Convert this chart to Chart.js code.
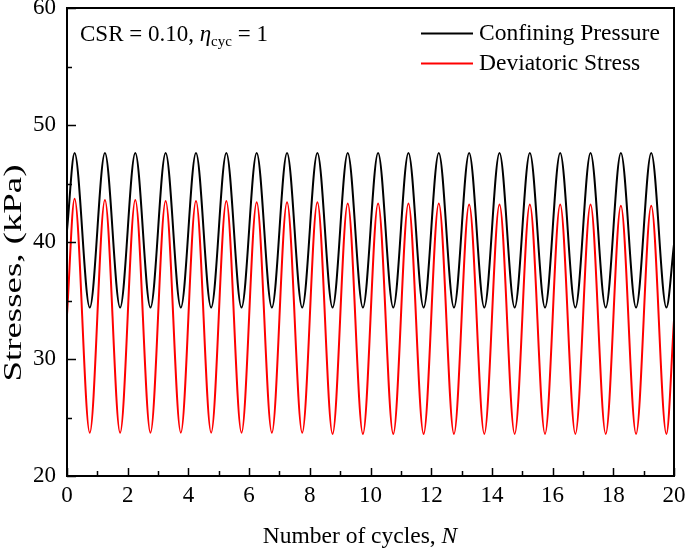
<!DOCTYPE html>
<html><head><meta charset="utf-8">
<script src="https://cdn.jsdelivr.net/npm/chart.js@4.4.1/dist/chart.umd.min.js"></script>
<style>html,body{margin:0;padding:0;background:#fff}#wrap{width:685px;height:551px}</style>
</head><body><div id="wrap"><canvas id="c" width="685" height="551"></canvas></div>
<script>
// ---- data ----
const xTickLabels = [0, 2, 4, 6, 8, 10, 12, 14, 16, 18, 20];
const xMinorTicks = [1, 3, 5, 7, 9, 11, 13, 15, 17, 19];
const yTickLabels = [20, 30, 40, 50, 60];
const yMinorTicks = [25, 35, 45, 55];

// cycle positions of the crests and troughs
const peakN   = [0.25, 1.25, 2.25, 3.25, 4.25, 5.25, 6.25, 7.25, 8.25, 9.25, 10.25, 11.25, 12.25, 13.25, 14.25, 15.25, 16.25, 17.25, 18.25, 19.25];
const troughN = [0.75, 1.75, 2.75, 3.75, 4.75, 5.75, 6.75, 7.75, 8.75, 9.75, 10.75, 11.75, 12.75, 13.75, 14.75, 15.75, 16.75, 17.75, 18.75, 19.75];
const startEndN = [0, 20];

// Confining Pressure (kPa)
const confPeak   = [47.6, 47.6, 47.6, 47.6, 47.6, 47.6, 47.6, 47.6, 47.6, 47.6, 47.6, 47.6, 47.6, 47.6, 47.6, 47.6, 47.6, 47.6, 47.6, 47.6];
const confTrough = [34.4, 34.4, 34.4, 34.4, 34.4, 34.4, 34.4, 34.4, 34.4, 34.4, 34.4, 34.4, 34.4, 34.4, 34.4, 34.4, 34.4, 34.4, 34.4, 34.4];
const confStartEnd = [41.0, 39.8];

// Deviatoric Stress (kPa)
const devPeak   = [43.7, 43.6, 43.6, 43.5, 43.5, 43.5, 43.4, 43.4, 43.4, 43.3, 43.3, 43.3, 43.3, 43.2, 43.2, 43.2, 43.2, 43.2, 43.1, 43.1];
const devTrough = [23.7, 23.7, 23.7, 23.7, 23.7, 23.7, 23.7, 23.7, 23.6, 23.6, 23.6, 23.6, 23.6, 23.6, 23.6, 23.6, 23.6, 23.6, 23.6, 23.6];
const devStartEnd = [33.8, 33.3];

function buildSeries(peaks, troughs, se) {
  const pts = [{x: startEndN[0], y: se[0]}];
  for (let i = 0; i < peakN.length; i++) {
    pts.push({x: peakN[i], y: peaks[i]});
    pts.push({x: troughN[i], y: troughs[i]});
  }
  pts.push({x: startEndN[1], y: se[1]});
  return pts;
}

const SERIF = '"Liberation Serif", "Times New Roman", serif';

const decorPlugin = {
  id: 'decor',
  afterDraw(chart) {
    const ctx = chart.ctx;
    const a = chart.chartArea;
    const xs = chart.scales.x, ys = chart.scales.y;
    ctx.save();
    ctx.strokeStyle = '#000';
    ctx.fillStyle = '#000';
    // frame
    ctx.lineWidth = 2;
    ctx.strokeRect(a.left, a.top, a.right - a.left, a.bottom - a.top);
    // inward ticks
    ctx.lineWidth = 1.5;
    ctx.beginPath();
    xTickLabels.forEach(v => { const p = Math.round(xs.getPixelForValue(v)) + 0.5; ctx.moveTo(p, a.bottom); ctx.lineTo(p, a.bottom - 8); });
    xMinorTicks.forEach(v => { const p = Math.round(xs.getPixelForValue(v)) + 0.5; ctx.moveTo(p, a.bottom); ctx.lineTo(p, a.bottom - 5); });
    yTickLabels.forEach(v => { const p = Math.round(ys.getPixelForValue(v)) + 0.5; ctx.moveTo(a.left, p); ctx.lineTo(a.left + 9, p); });
    yMinorTicks.forEach(v => { const p = Math.round(ys.getPixelForValue(v)) + 0.5; ctx.moveTo(a.left, p); ctx.lineTo(a.left + 5, p); });
    ctx.stroke();

    // annotation: CSR = 0.10, eta_cyc = 1
    ctx.textBaseline = 'alphabetic';
    ctx.textAlign = 'left';
    let x = 80; const by = 41;
    ctx.font = '23px ' + SERIF;
    const t1 = 'CSR = 0.10, ';
    ctx.fillText(t1, x, by); x += ctx.measureText(t1).width;
    ctx.font = 'italic 23px ' + SERIF;
    ctx.fillText('\u03B7', x, by); x += ctx.measureText('\u03B7').width;
    ctx.font = '15px ' + SERIF;
    ctx.fillText('cyc', x, by + 5); x += ctx.measureText('cyc').width;
    ctx.font = '23px ' + SERIF;
    ctx.fillText(' = 1', x, by);

    // legend
    const leg = [['Confining Pressure', '#000000', 33], ['Deviatoric Stress', '#ff0000', 63]];
    leg.forEach(([label, col, y]) => {
      ctx.strokeStyle = col; ctx.lineWidth = 2;
      ctx.beginPath(); ctx.moveTo(421, y + 0.5); ctx.lineTo(473, y + 0.5); ctx.stroke();
      ctx.fillStyle = '#000';
      ctx.font = '23.5px ' + SERIF;
      ctx.textBaseline = 'middle';
      ctx.fillText(label, 479, y + 1);
    });

    // x axis title
    ctx.textBaseline = 'middle';
    const xt1 = 'Number of cycles, ';
    ctx.font = 'italic 23.5px ' + SERIF;
    const wN = ctx.measureText('N').width;
    ctx.font = '23.5px ' + SERIF;
    const w1 = ctx.measureText(xt1).width;
    let sx = 360 - (w1 + wN) / 2;
    ctx.fillText(xt1, sx, 537);
    ctx.font = 'italic 23.5px ' + SERIF;
    ctx.fillText('N', sx + w1, 537);

    // y axis title
    ctx.save();
    ctx.translate(14, 273);
    ctx.rotate(-Math.PI / 2);
    ctx.font = '26px ' + SERIF;
    ctx.textAlign = 'center';
    ctx.textBaseline = 'middle';
    const yt = 'Stresses, (kPa)';
    const wy = ctx.measureText(yt).width;
    ctx.scale(217 / wy, 1);
    ctx.fillText(yt, 0, 0);
    ctx.restore();

    ctx.restore();
  }
};

new Chart(document.getElementById('c'), {
  type: 'line',
  data: {
    datasets: [
      { label: 'Confining Pressure', data: buildSeries(confPeak, confTrough, confStartEnd),
        borderColor: '#000000', backgroundColor: '#000000', borderWidth: 2, pointRadius: 0, cubicInterpolationMode: 'monotone', fill: false },
      { label: 'Deviatoric Stress', data: buildSeries(devPeak, devTrough, devStartEnd),
        borderColor: '#ff0000', backgroundColor: '#ff0000', borderWidth: 2, pointRadius: 0, cubicInterpolationMode: 'monotone', fill: false }
    ]
  },
  options: {
    responsive: false,
    animation: false,
    devicePixelRatio: 1,
    layout: { padding: { top: 8, right: 11, left: 0, bottom: 0 } },
    plugins: { legend: { display: false }, tooltip: { enabled: false } },
    scales: {
      x: {
        type: 'linear', min: 0, max: 20,
        grid: { display: false, drawTicks: false },
        border: { display: false },
        ticks: { stepSize: 2, color: '#000', font: { family: SERIF, size: 23 }, padding: 6, maxRotation: 0, autoSkip: false },
        afterFit(s) { s.height = 75; s.paddingLeft = 0; s.paddingRight = 0; }
      },
      y: {
        min: 20, max: 60,
        grid: { display: false, drawTicks: false },
        border: { display: false },
        ticks: { stepSize: 10, color: '#000', font: { family: SERIF, size: 23 }, padding: 11 },
        afterFit(s) { s.width = 67; s.paddingTop = 0; s.paddingBottom = 0; }
      }
    }
  },
  plugins: [decorPlugin]
});
</script>
</body></html>
